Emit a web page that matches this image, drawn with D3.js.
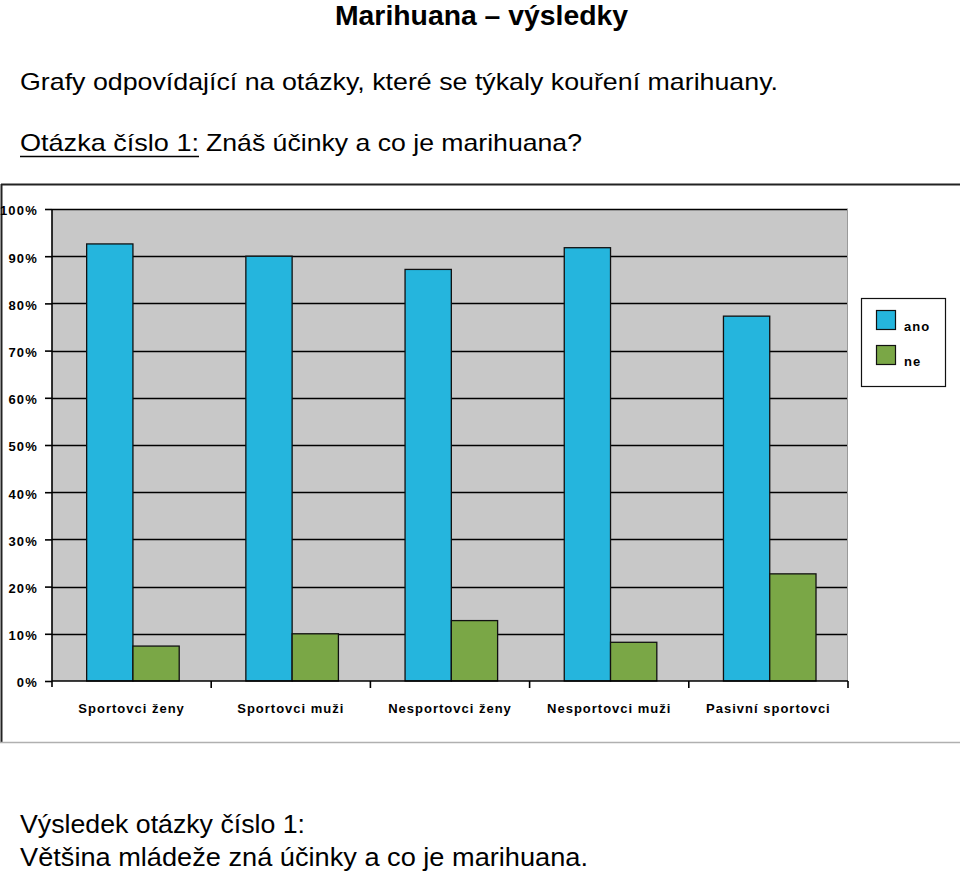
<!DOCTYPE html>
<html><head><meta charset="utf-8">
<script src="https://cdn.jsdelivr.net/npm/d3@7"></script>
<style>
html,body{margin:0;padding:0;background:#fff;}
svg{display:block;font-family:"Liberation Sans",Arial,sans-serif;}
</style></head>
<body>
<svg id="c" width="960" height="872"></svg>
<script>
const categories = ["Sportovci ženy","Sportovci muži","Nesportovci ženy","Nesportovci muži","Pasivní sportovci"];
const seriesNames = ["ano","ne"];
const anoValues = [92.6, 90.0, 87.2, 91.8, 77.3];
const neValues = [7.4, 10.0, 12.8, 8.2, 22.7];
const yTicks = [0,10,20,30,40,50,60,70,80,90,100];
const colors = ["#25b5dd","#7aa746"];

(function(){
const svg = d3.select("#c");

function txt(x, yy, size, str, len, bold, anchor){
  const t = svg.append("text").attr("x",x).attr("y",yy).attr("font-size",size).text(str)
    .attr("textLength",len).attr("lengthAdjust","spacingAndGlyphs");
  if(bold) t.attr("font-weight","bold");
  if(anchor) t.attr("text-anchor",anchor);
  return t;
}
// Header texts
txt(335, 25, 27, "Marihuana – výsledky", 293, true);
txt(20, 90, 24, "Grafy odpovídající na otázky, které se týkaly kouření marihuany.", 758);
txt(20, 151, 24, "Otázka číslo 1:", 179);
svg.append("line").attr("x1",20).attr("x2",199).attr("y1",156.5).attr("y2",156.5).attr("stroke","#000").attr("stroke-width",1.5);
txt(206, 151, 24, "Znáš účinky a co je marihuana?", 376);
txt(20, 833, 25, "Výsledek otázky číslo 1:", 285);
txt(20, 866, 25, "Většina mládeže zná účinky a co je marihuana.", 568);

// Chart frame
svg.append("line").attr("x1",1).attr("x2",960).attr("y1",184.5).attr("y2",184.5).attr("stroke","#222").attr("stroke-width",2);
svg.append("line").attr("x1",1.5).attr("x2",1.5).attr("y1",184).attr("y2",742).attr("stroke","#222").attr("stroke-width",2);
svg.append("line").attr("x1",0).attr("x2",960).attr("y1",742.5).attr("y2",742.5).attr("stroke","#b0b0b0").attr("stroke-width",1.5);

const pl = 52, pr = 848, pt = 209, pb = 681;
const x0 = d3.scaleBand().domain(categories).range([pl,pr]).paddingInner(0).paddingOuter(0);
const x1 = d3.scaleBand().domain(seriesNames).range([0,x0.bandwidth()]).paddingInner(0).paddingOuter(0.72).align(0.52);
const y = d3.scaleLinear().domain([0,100]).range([pb,pt]);

svg.append("rect").attr("x",pl).attr("y",pt).attr("width",pr-pl).attr("height",pb-pt).attr("fill","#c8c8c8");

// Gridlines
svg.append("g").selectAll("line").data(yTicks.filter(d=>d>0)).join("line")
  .attr("x1",pl).attr("x2",pr).attr("y1",d=>Math.round(y(d))+0.5).attr("y2",d=>Math.round(y(d))+0.5)
  .attr("stroke","#000").attr("stroke-width",1.6);
svg.append("line").attr("x1",pr-0.5).attr("x2",pr-0.5).attr("y1",pt).attr("y2",pb).attr("stroke","#9a9a9a");

// Bars
const data = categories.map((c,i)=>({cat:c, vals:[anoValues[i], neValues[i]]}));
const groups = svg.append("g").selectAll("g").data(data).join("g")
  .attr("transform",d=>`translate(${x0(d.cat)},0)`);
groups.selectAll("rect").data(d=>d.vals.map((v,j)=>({s:seriesNames[j],v,j}))).join("rect")
  .attr("x",d=>x1(d.s)).attr("width",x1.bandwidth())
  .attr("y",d=>y(d.v)).attr("height",d=>y(0)-y(d.v))
  .attr("fill",d=>colors[d.j]).attr("stroke","#111").attr("stroke-width",1.3);

// Y axis
const yAxis = d3.axisLeft(y).tickValues(yTicks).tickFormat(d=>d+"%").tickSize(7).tickPadding(7);
const ga = svg.append("g").attr("transform",`translate(${pl},0)`).call(yAxis);
ga.select(".domain").remove();
ga.append("line").attr("x1",0).attr("x2",0).attr("y1",pt).attr("y2",pb+6).attr("stroke","#000").attr("stroke-width",1.6);
ga.selectAll(".tick line").attr("stroke","#000").attr("stroke-width",1.6);
ga.selectAll(".tick text").attr("font-size",13).attr("font-weight","bold").attr("fill","#000")
  .attr("font-family","Liberation Sans, Arial, sans-serif").attr("letter-spacing","1.2").attr("dy","0.45em");

// X axis
const xAxis = d3.axisBottom(x0).tickSize(0).tickPadding(23);
const gx = svg.append("g").attr("transform",`translate(0,${pb})`).call(xAxis);
gx.select(".domain").remove();
gx.append("line").attr("x1",pl).attr("x2",pr).attr("y1",0).attr("y2",0).attr("stroke","#000").attr("stroke-width",1.6);
gx.selectAll(".bound").data(categories.map(c=>x0(c)+x0.bandwidth())).join("line")
  .attr("x1",d=>d).attr("x2",d=>d).attr("y1",0).attr("y2",7).attr("stroke","#000").attr("stroke-width",1.6);
gx.selectAll(".tick text").attr("font-size",13).attr("font-weight","bold").attr("fill","#000")
  .attr("font-family","Liberation Sans, Arial, sans-serif").attr("letter-spacing","1");

// Legend
const lg = svg.append("g");
lg.append("rect").attr("x",861.5).attr("y",298.5).attr("width",84).attr("height",88).attr("fill","#fff").attr("stroke","#111").attr("stroke-width",1.2);
seriesNames.forEach((s,i)=>{
  lg.append("rect").attr("x",876.5).attr("y",310.5+i*35).attr("width",19).attr("height",19)
    .attr("fill",colors[i]).attr("stroke","#111").attr("stroke-width",1.2);
  lg.append("text").attr("x",904).attr("y",331+i*35).attr("font-size",13).attr("font-weight","bold")
    .attr("letter-spacing","1").text(s);
});
})();
</script>
</body></html>
